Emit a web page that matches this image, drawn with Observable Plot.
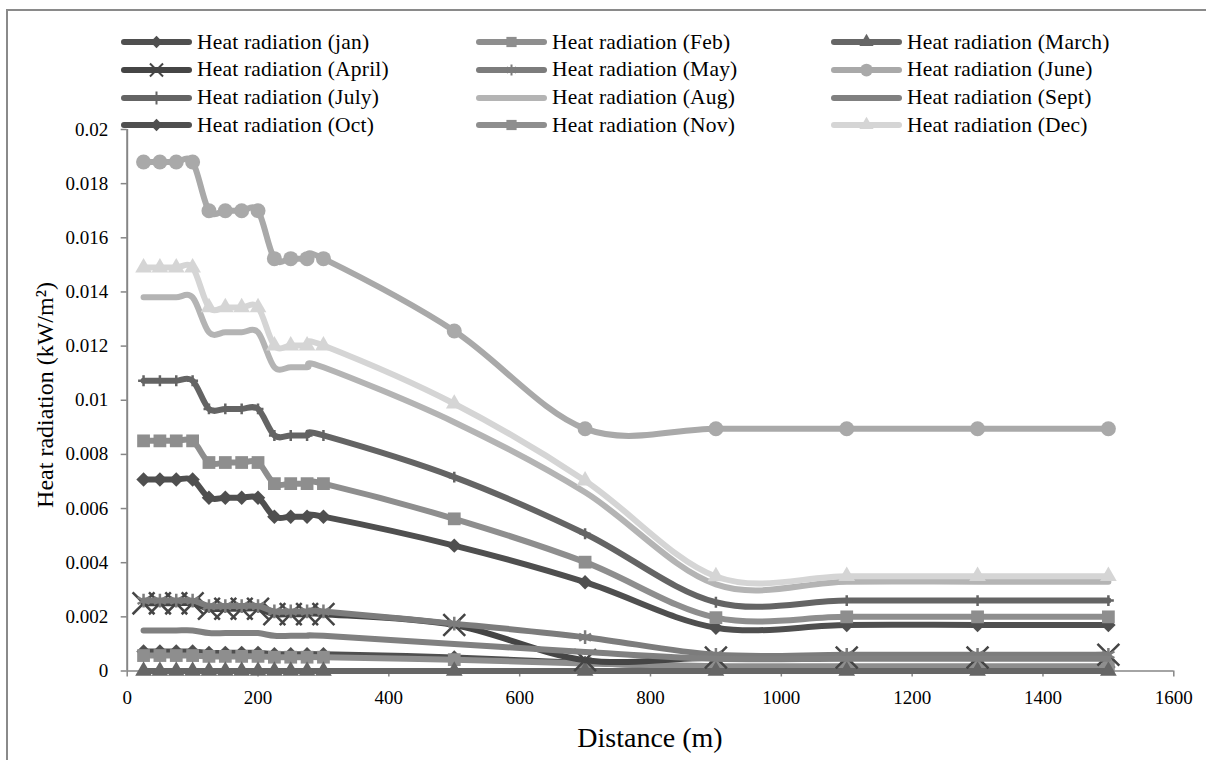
<!DOCTYPE html>
<html><head><meta charset="utf-8">
<script src="https://cdn.jsdelivr.net/npm/d3@7"></script>
<script src="https://cdn.jsdelivr.net/npm/@observablehq/plot@0.6"></script>
<style>
html,body{margin:0;padding:0;background:#fff;overflow:hidden;}
#wrap{position:relative;width:1206px;height:760px;font-family:"Liberation Serif",serif;color:#000;}
#frame{position:absolute;left:6px;top:9px;width:1230px;height:790px;border:2px solid #8a8a8a;box-sizing:border-box;}
#chart{position:absolute;left:0;top:0;}
.item{position:absolute;height:28px;display:flex;align-items:center;font-size:21.5px;letter-spacing:0.2px;white-space:nowrap;}
.item svg{margin-right:5px;}
#ylab{position:absolute;left:45px;top:395px;transform:translate(-50%,-50%) rotate(-90deg);font-size:24px;white-space:nowrap;}
#xlab{position:absolute;left:650px;top:738px;transform:translate(-50%,-50%);font-size:28px;white-space:nowrap;}
#chart svg g[aria-label="x-axis tick"] path, #chart svg g[aria-label="y-axis tick"] path{stroke:#868686;stroke-width:1.5px;}
</style></head>
<body>
<div id="wrap">
  <div id="frame"></div>
  <div id="chart"></div>
  <div id="legend"></div>
  <div id="ylab">Heat radiation (kW/m²)</div>
  <div id="xlab">Distance (m)</div>
</div>
<script>
// ---- data ----
const distance = [25,50,75,100,125,150,175,200,225,250,275,300,500,700,900,1100,1300,1500];
const months = ["jan","Feb","March","April","May","June","July","Aug","Sept","Oct","Nov","Dec"];
const jan   = [0.00072,0.00072,0.00072,0.00072,0.00067,0.00067,0.00067,0.00067,0.00062,0.00062,0.00062,0.00062,0.0005,0.0003,0.00015,0.00015,0.00015,0.00015];
const feb   = [0.00057,0.00057,0.00057,0.00057,0.00054,0.00054,0.00054,0.00054,0.00051,0.00051,0.00051,0.00051,0.00042,0.00028,0.00018,0.00018,0.00018,0.00018];
const march = [0,0,0,0,0,0,0,0,0,0,0,0,0,0,0,0,0,0];
const april = [0.0025,0.0025,0.0025,0.0025,0.0023,0.0023,0.0023,0.0023,0.0021,0.0021,0.0021,0.0021,0.0017,0.0004,0.0005,0.0005,0.0005,0.0006];
const may   = [0.0026,0.0026,0.0026,0.0026,0.0024,0.0024,0.0024,0.0024,0.0022,0.0022,0.0022,0.0022,0.00175,0.00125,0.0006,0.0006,0.0006,0.0006];
const june  = [0.0188,0.0188,0.0188,0.0188,0.0170,0.0170,0.0170,0.0170,0.01523,0.01523,0.01523,0.01523,0.01256,0.00895,0.00895,0.00895,0.00895,0.00895];
const july  = [0.01072,0.01072,0.01072,0.01072,0.00968,0.00968,0.00968,0.00968,0.0087,0.0087,0.0087,0.0087,0.00716,0.00507,0.00254,0.0026,0.0026,0.0026];
const aug   = [0.0138,0.0138,0.0138,0.0138,0.01251,0.01251,0.01251,0.01251,0.01122,0.01122,0.01122,0.01122,0.00919,0.0066,0.0032,0.0033,0.0033,0.0033];
const sept  = [0.0015,0.0015,0.0015,0.0015,0.0014,0.0014,0.0014,0.0014,0.0013,0.0013,0.0013,0.0013,0.001,0.0007,0.00045,0.00045,0.00045,0.00045];
const oct   = [0.00707,0.00707,0.00707,0.00707,0.0064,0.0064,0.0064,0.0064,0.0057,0.0057,0.0057,0.0057,0.00463,0.00328,0.0016,0.0017,0.0017,0.0017];
const nov   = [0.0085,0.0085,0.0085,0.0085,0.0077,0.0077,0.0077,0.0077,0.00692,0.00692,0.00692,0.00692,0.00562,0.00402,0.00197,0.002,0.002,0.002];
const dec   = [0.0149,0.0149,0.0149,0.0149,0.01343,0.01343,0.01343,0.01343,0.01202,0.01202,0.01202,0.01202,0.00987,0.00703,0.00349,0.0035,0.0035,0.0035];
const xTicks = [0,200,400,600,800,1000,1200,1400,1600];
const yTicks = [0,0.002,0.004,0.006,0.008,0.01,0.012,0.014,0.016,0.018,0.02];

// ---- styles ----
const series = [jan,feb,march,april,may,june,july,aug,sept,oct,nov,dec];
const colors = ["#4f4f4f","#8e8e8e","#666666","#454545","#7c7c7c","#a9a9a9","#646464","#b4b4b4","#808080","#4f4f4f","#8e8e8e","#d5d5d5"];
const symbols = ["diamond2","square","triangle","times","asterisk","circle","plus",null,null,"diamond2","square","triangle"];
const radii   = [6.5,7.2,6.2,10,6.5,7.5,3.6,0,0,6.5,7.2,6.2];
const legScale = [0.85,0.8,0.85,0.6,0.8,0.85,1.2,0,0,0.85,0.8,0.85];
const stroked = new Set(["times","asterisk","plus"]);

const rows = [];
series.forEach((s,i)=> s.forEach((v,j)=> rows.push({month:months[i], idx:i, x:distance[j], y:v})));

const marks = [
  Plot.ruleY([0], {stroke:"#868686", strokeWidth:1.5}),
  Plot.ruleX([0], {stroke:"#868686", strokeWidth:2}),
  Plot.axisX({ticks:xTicks, tickSize:6, tickPadding:13, fontSize:19, label:null, tickFormat:d=>String(d)}),
  Plot.axisY({ticks:yTicks, tickSize:6, tickPadding:13, fontSize:19, label:null, tickFormat:d=>String(+d.toFixed(4))})
];
series.forEach((s,i)=>{
  const d = rows.filter(r=>r.idx===i);
  marks.push(Plot.line(d,{x:"x",y:"y",stroke:colors[i],strokeWidth:6,curve:"cardinal",strokeLinejoin:"round",strokeLinecap:"round"}));
  const sym = symbols[i];
  if (sym) {
    if (stroked.has(sym)) marks.push(Plot.dot(d,{x:"x",y:"y",symbol:sym,r:radii[i],stroke:colors[i],strokeWidth:2.5,fill:"none"}));
    else marks.push(Plot.dot(d,{x:"x",y:"y",symbol:sym,r:radii[i],fill:colors[i],stroke:"none"}));
  }
});

const chart = Plot.plot({
  width:1206, height:760,
  marginLeft:126.7, marginRight:32.7, marginTop:129, marginBottom:89.5,
  x:{domain:[0,1600]},
  y:{domain:[0,0.02]},
  style:{fontFamily:"'Liberation Serif', serif", fontSize:"19px", color:"#000", background:"transparent"},
  marks
});
document.getElementById("chart").appendChild(chart);

// ---- legend ----
const symMap = {diamond2:d3.symbolDiamond2, square:d3.symbolSquare, triangle:d3.symbolTriangle, times:d3.symbolTimes, asterisk:d3.symbolAsterisk, circle:d3.symbolCircle, plus:d3.symbolPlus};
const leg = document.getElementById("legend");
const colX = [121,476,831], rowY0 = 42.3, rowStep = 27.67;
months.forEach((m,i)=>{
  const c = i%3, r = Math.floor(i/3);
  const div = document.createElement("div");
  div.className = "item";
  div.style.left = colX[c]+"px";
  div.style.top = (rowY0 + r*rowStep - 14)+"px";
  const ns = "http://www.w3.org/2000/svg";
  const svg = document.createElementNS(ns,"svg");
  svg.setAttribute("width",71); svg.setAttribute("height",20);
  const ln = document.createElementNS(ns,"line");
  ln.setAttribute("x1",3); ln.setAttribute("x2",68); ln.setAttribute("y1",10); ln.setAttribute("y2",10);
  ln.setAttribute("stroke",colors[i]); ln.setAttribute("stroke-width",6); ln.setAttribute("stroke-linecap","round");
  svg.appendChild(ln);
  const sym = symbols[i];
  if (sym) {
    const rr = radii[i]*legScale[i];
    const p = document.createElementNS(ns,"path");
    p.setAttribute("d", d3.symbol(symMap[sym], Math.PI*rr*rr)());
    p.setAttribute("transform","translate(35.5,10)");
    if (stroked.has(sym)) { p.setAttribute("stroke",colors[i]); p.setAttribute("stroke-width",2); p.setAttribute("fill","none"); }
    else p.setAttribute("fill",colors[i]);
    svg.appendChild(p);
  }
  div.appendChild(svg);
  const t = document.createElement("span");
  t.textContent = "Heat radiation ("+m+")";
  div.appendChild(t);
  leg.appendChild(div);
});
</script>
</body></html>
